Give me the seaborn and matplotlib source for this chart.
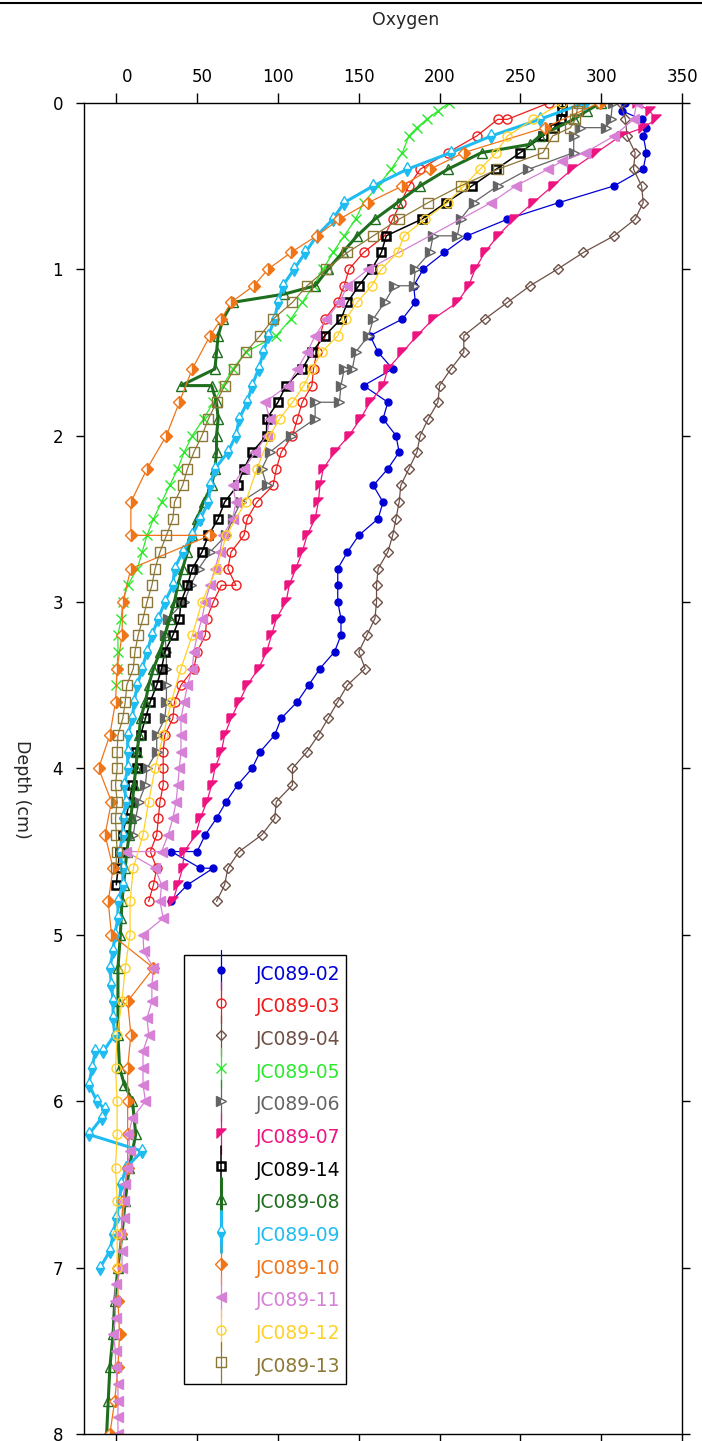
import matplotlib
matplotlib.use("Agg")
import matplotlib.pyplot as plt
import matplotlib.transforms as mtransforms
from matplotlib.lines import Line2D
from matplotlib.legend_handler import HandlerLine2D
import seaborn as sns

# Perfis de oxigénio (profundidade em cm, oxigénio)
d02 = [0.0, 0.05, 0.1, 0.15, 0.2, 0.3, 0.4, 0.5, 0.6, 0.7, 0.8, 0.9, 1.0, 1.1, 1.2, 1.3, 1.4, 1.5, 1.6, 1.7,
       1.8, 1.9, 2.0, 2.1, 2.2, 2.3, 2.4, 2.5, 2.6, 2.7, 2.8, 2.9, 3.0, 3.1, 3.2, 3.3, 3.4, 3.5, 3.6, 3.7,
       3.8, 3.9, 4.0, 4.1, 4.2, 4.3, 4.4, 4.5, 4.5, 4.6, 4.6, 4.7, 4.8]
o02 = [315, 313, 325, 328, 326, 328, 326, 308, 274, 242, 217, 203, 190, 184, 185, 177, 157, 162, 171, 153,
       168, 165, 173, 175, 168, 159, 165, 162, 150, 143, 137, 137, 137, 139, 139, 135, 126, 119, 112, 102,
       98, 89, 84, 75, 68, 62, 55, 50, 34, 52, 60, 44, 34]

d03 = [0.0, 0.1, 0.1, 0.2, 0.3, 0.4, 0.5, 0.6, 0.7, 0.8, 0.9, 1.0, 1.1, 1.2, 1.3, 1.4, 1.5, 1.6, 1.7, 1.8,
       1.9, 2.0, 2.1, 2.2, 2.3, 2.4, 2.5, 2.6, 2.7, 2.8, 2.9, 2.9, 3.0, 3.1, 3.2, 3.3, 3.4, 3.5, 3.6, 3.7,
       3.8, 3.9, 4.0, 4.1, 4.2, 4.3, 4.4, 4.5, 4.6, 4.7, 4.8]
o03 = [268, 242, 236, 223, 205, 188, 181, 176, 171, 166, 153, 144, 141, 137, 129, 126, 124, 122, 121, 115,
       112, 109, 102, 99, 97, 87, 81, 79, 71, 69, 74, 65, 60, 56, 55, 50, 48, 40, 36, 35,
       30, 29, 29, 29, 27, 26, 25, 21, 25, 23, 20]

d04 = [0.0, 0.1, 0.2, 0.3, 0.4, 0.5, 0.6, 0.7, 0.8, 0.9, 1.0, 1.1, 1.2, 1.3, 1.4, 1.5, 1.6, 1.7, 1.8, 1.9,
       2.0, 2.1, 2.2, 2.3, 2.4, 2.5, 2.6, 2.7, 2.8, 2.9, 3.0, 3.1, 3.2, 3.3, 3.4, 3.5, 3.6, 3.7, 3.8, 3.9,
       4.0, 4.1, 4.2, 4.3, 4.4, 4.5, 4.6, 4.7, 4.8]
o04 = [312, 315, 316, 321, 320, 325, 326, 321, 308, 289, 273, 256, 242, 228, 215, 215, 207, 200, 199, 193,
       188, 186, 181, 176, 175, 173, 171, 168, 162, 161, 161, 160, 155, 150, 154, 143, 137, 131, 125, 118,
       109, 109, 99, 98, 90, 76, 69, 67, 62]

d05 = [0.0, 0.05, 0.1, 0.15, 0.2, 0.3, 0.4, 0.5, 0.6, 0.7, 0.8, 0.9, 1.0, 1.1, 1.2, 1.3, 1.4, 1.5, 1.6, 1.7,
       1.8, 1.9, 2.0, 2.1, 2.2, 2.3, 2.4, 2.5, 2.6, 2.7, 2.8, 2.9, 3.0, 3.1, 3.2, 3.3, 3.4, 3.5]
o05 = [206, 199, 192, 186, 181, 177, 170, 162, 153, 148, 141, 134, 128, 122, 115, 108, 99, 80, 72, 66,
       60, 54, 47, 42, 38, 33, 28, 23, 19, 16, 13, 7, 4, 3, 1, 1, 0.5, 0]

d06 = [0.0, 0.1, 0.15, 0.15, 0.2, 0.3, 0.4, 0.5, 0.6, 0.7, 0.8, 0.8, 0.9, 1.0, 1.1, 1.1, 1.2, 1.3, 1.4, 1.5,
       1.6, 1.6, 1.7, 1.8, 1.8, 1.9, 2.0, 2.1, 2.2, 2.3, 2.4, 2.5, 2.6, 2.7, 2.8, 2.9, 3.0, 3.1, 3.2, 3.3,
       3.4, 3.5, 3.6, 3.7, 3.8, 3.9, 4.0, 4.1, 4.2, 4.3, 4.4]
o06 = [307, 306, 303, 287, 283, 283, 255, 236, 221, 213, 211, 196, 194, 185, 184, 172, 166, 159, 156, 148,
       146, 141, 139, 138, 123, 123, 108, 95, 90, 93, 77, 72, 68, 58, 51, 46, 42, 32, 30, 31,
       31, 31, 31, 30, 25, 25, 19, 18, 14, 12, 10.5]

d07 = [0.0, 0.05, 0.1, 0.15, 0.2, 0.3, 0.4, 0.5, 0.6, 0.7, 0.8, 0.9, 1.0, 1.1, 1.2, 1.3, 1.4, 1.5, 1.6, 1.7,
       1.8, 1.9, 2.0, 2.1, 2.2, 2.3, 2.4, 2.5, 2.6, 2.7, 2.8, 2.9, 3.0, 3.1, 3.2, 3.3, 3.4, 3.5, 3.6, 3.7,
       3.8, 3.9, 4.0, 4.1, 4.2, 4.3, 4.4, 4.5, 4.6, 4.7, 4.8]
o07 = [322, 330, 334, 326, 312, 297, 282, 270, 258, 246, 236, 228, 222, 218, 211, 196, 186, 177, 168, 165,
       157, 151, 144, 135, 128, 126, 125, 123, 118, 115, 111, 107, 105, 99, 96, 93, 88, 81, 76, 71,
       67, 65, 61, 59, 56, 52, 49, 42, 41, 38, 35]

d14 = [0.0, 0.05, 0.1, 0.15, 0.2, 0.3, 0.4, 0.5, 0.6, 0.7, 0.8, 0.9, 1.0, 1.1, 1.2, 1.3, 1.4, 1.5, 1.6, 1.7,
       1.8, 1.9, 2.0, 2.1, 2.2, 2.3, 2.4, 2.5, 2.6, 2.7, 2.8, 2.9, 3.0, 3.1, 3.2, 3.3, 3.4, 3.5, 3.6, 3.7,
       3.8, 3.9, 4.0, 4.1, 4.2, 4.3, 4.4, 4.5, 4.6, 4.7]
o14 = [276, 276, 275, 271, 264, 250, 235, 220, 204, 189, 167, 164, 158, 150, 143, 139, 129, 121, 115, 105,
       100, 93, 93, 84, 79, 75, 67, 63, 57, 53, 47, 44, 40, 39, 35, 30, 28, 25, 21, 18,
       15, 12, 13, 10, 8, 6, 4, 2, 1, 0]

d08 = [0.0, 0.05, 0.1, 0.2, 0.25, 0.3, 0.4, 0.5, 0.6, 0.7, 0.8, 0.9, 1.0, 1.1, 1.15, 1.2, 1.3, 1.4, 1.5, 1.6,
       1.7, 1.7, 1.8, 1.9, 2.0, 2.1, 2.2, 2.3, 2.4, 2.5, 2.6, 2.7, 2.8, 2.9, 3.0, 3.1, 3.2, 3.3, 3.4, 3.5,
       3.6, 3.7, 3.8, 3.9, 4.0, 4.1, 4.2, 4.3, 4.4, 4.5, 4.6, 4.7, 4.8, 4.9, 5.0, 5.2, 5.4, 5.6, 5.8, 5.9,
       6.0, 6.2, 6.4, 6.6, 6.8, 7.0, 7.2, 7.4, 7.6, 7.8, 8.0]
o08 = [300, 291, 283, 262, 256, 226, 205, 188, 174, 160, 149, 140, 131, 123, 104, 72, 66, 63, 62, 61,
       40, 59, 62, 63, 62, 62, 61, 59, 54, 50, 47, 44, 41, 38, 36, 33, 30, 27, 23, 20,
       18, 15, 14, 13, 12, 11, 10, 9, 8, 6.5, 5.5, 4.5, 3.5, 3, 2.5, 1, 1, 1, 2, 5,
       10, 12, 8, 5.5, 3.5, 1, -1, -2, -4, -5, -6]

d09 = [0.0, 0.1, 0.2, 0.3, 0.4, 0.5, 0.6, 0.7, 0.8, 0.9, 1.0, 1.1, 1.2, 1.3, 1.4, 1.5, 1.6, 1.7, 1.8, 1.9,
       2.0, 2.1, 2.2, 2.3, 2.4, 2.5, 2.6, 2.7, 2.8, 2.9, 3.0, 3.1, 3.2, 3.3, 3.4, 3.5, 3.6, 3.7, 3.8, 3.9,
       4.0, 4.1, 4.2, 4.3, 4.4, 4.5, 4.6, 4.7, 4.8, 4.9, 5.0, 5.1, 5.2, 5.3, 5.4, 5.5, 5.6, 5.7, 5.7, 5.8,
       5.9, 6.0, 6.05, 6.1, 6.2, 6.3, 6.4, 6.5, 6.6, 6.7, 6.8, 6.9, 7.0]
o09 = [290, 262, 232, 207, 180, 159, 141, 134, 124, 117, 110, 103, 100, 98, 94, 91, 88, 84, 81, 76,
       74, 69, 61, 58, 57, 52, 47, 41, 36, 35, 30, 26, 22, 19, 16, 13, 11, 10, 7, 7,
       7, 5, 6, 4, 4, 2, 4, 4, 1, 1, -1, -2, -4, -3, -2, -2, -1, -8, -13, -15,
       -17, -12, -7, -9, -17, 16, 6, 3, 2, 0, -2, -4, -10]

d10 = [0.0, 0.15, 0.3, 0.4, 0.5, 0.6, 0.7, 0.8, 0.9, 1.0, 1.1, 1.2, 1.3, 1.4, 1.6, 1.8, 2.0, 2.2, 2.4, 2.6,
       2.6, 2.8, 3.0, 3.2, 3.4, 3.6, 3.8, 4.0, 4.2, 4.4, 4.6, 4.8, 5.0, 5.2, 5.4, 5.6, 5.8, 6.0, 6.2, 6.4,
       6.6, 6.8, 7.0, 7.2, 7.4, 7.6, 7.8, 8.0]
o10 = [299, 265, 215, 194, 177, 156, 138, 124, 108, 94, 85, 71, 65, 58, 47, 39, 31, 19, 9, 9,
       58, 9, 4, 3.5, 0.5, -0.5, -4, -11, -3, -7, -2, -5, -3, 23, 7, 9, 7, 7, 7, 7,
       4, 3, 1, 1, 2, 1, -1, -4]

d11 = [0.0, 0.1, 0.2, 0.3, 0.35, 0.4, 0.5, 0.6, 1.0, 1.1, 1.2, 1.3, 1.4, 1.5, 1.6, 1.7, 1.8, 1.9, 2.0, 2.1,
       2.2, 2.3, 2.4, 2.5, 2.6, 2.7, 2.8, 2.9, 3.0, 3.1, 3.2, 3.3, 3.4, 3.5, 3.6, 3.7, 3.8, 3.9, 4.0, 4.1,
       4.2, 4.3, 4.4, 4.5, 4.5, 4.6, 4.7, 4.8, 4.9, 5.0, 5.1, 5.2, 5.3, 5.4, 5.5, 5.6, 5.7, 5.8, 5.9, 6.0,
       6.1, 6.2, 6.3, 6.4, 6.5, 6.6, 6.7, 6.8, 6.9, 7.0, 7.1, 7.2, 7.3, 7.4, 7.5, 7.6, 7.7, 7.8, 7.9, 8.0]
o11 = [322, 320, 308, 290, 276, 267, 247, 232, 156, 143, 138, 130, 123, 118, 112, 106, 92, 95, 93, 86,
       79, 72, 74, 72, 66, 64, 61, 58, 55, 53, 50, 48, 47, 44, 42, 40, 40, 40, 39, 38,
       37, 35, 32, 28, 6, 24, 28, 27, 29, 16.5, 17, 23, 22, 22, 19, 20, 16.5, 16.5, 16.5, 18,
       10, 7.5, 8.5, 6.5, 5.5, 4.5, 4.5, 2.5, 3.5, 3.5, -0.5, -1, -0.5, -2, -0.5, -0.5, 1, 1, 1, 1]

d12 = [0.0, 0.1, 0.2, 0.3, 0.4, 0.5, 0.6, 0.7, 0.8, 0.9, 1.0, 1.1, 1.2, 1.3, 1.4, 1.5, 1.6, 1.7, 1.8, 1.9,
       2.0, 2.2, 2.4, 2.6, 2.8, 3.0, 3.2, 3.4, 3.6, 3.8, 4.0, 4.2, 4.4, 4.6, 4.8, 5.0, 5.2, 5.4, 5.6, 5.8,
       6.0, 6.2, 6.4, 6.6, 6.8, 7.0]
o12 = [276, 258, 242, 235, 225, 215, 205, 191, 178, 174, 164, 158, 149, 142, 137, 127, 121, 116, 109, 101,
       95, 87, 80, 68, 62, 53, 47, 40, 34, 29, 24, 20, 16.5, 10.5, 8.5, 8.5, 5.5, 3.5, 0.5, -0.5,
       0.5, 0.5, -0.5, 0.5, 0.5, 0.5]

d13 = [0.0, 0.05, 0.1, 0.15, 0.2, 0.3, 0.4, 0.5, 0.6, 0.7, 0.8, 0.9, 1.0, 1.1, 1.2, 1.3, 1.4, 1.5, 1.6, 1.7,
       1.8, 1.9, 2.0, 2.1, 2.2, 2.3, 2.4, 2.5, 2.6, 2.7, 2.8, 2.9, 3.0, 3.1, 3.2, 3.3, 3.4, 3.5, 3.6, 3.7,
       3.8, 3.9, 4.0, 4.1, 4.2, 4.3, 4.4, 4.5, 4.6]
o13 = [286, 285, 284, 281, 270, 264, 236, 213, 193, 175, 159, 143, 130, 118, 109, 97, 89, 80, 73, 67,
       62, 57, 53, 48, 44, 41, 36, 35, 31, 27, 24, 22, 19, 16.5, 13.5, 11.5, 10.5, 6.5, 5.5, 4,
       1, 0.5, 0.5, -0.5, 0.5, -0.5, 0, 0.5, -0.5]

rotulos = ['JC089-02', 'JC089-03', 'JC089-04', 'JC089-05', 'JC089-06', 'JC089-07', 'JC089-14',
           'JC089-08', 'JC089-09', 'JC089-10', 'JC089-11', 'JC089-12', 'JC089-13']
profundidades = [d02, d03, d04, d05, d06, d07, d14, d08, d09, d10, d11, d12, d13]
oxigenio = [o02, o03, o04, o05, o06, o07, o14, o08, o09, o10, o11, o12, o13]

# Estilo de cada perfil (cor, marcador, espessura)
bandeira = [(-1, 1), (1, 1), (-1, -1), (-1, 1)]
estilos = [
    dict(color='#0000d4', marker='o', markersize=5, markerfacecolor='#0000d4', linewidth=0.9),
    dict(color='#ee1c1c', marker='o', markersize=6.5, markerfacecolor='none', linewidth=0.9),
    dict(color='#6e5046', marker='D', markersize=5, markerfacecolor='none', linewidth=0.9),
    dict(color='#2ee82e', marker='x', markersize=6.5, linewidth=0.9),
    dict(color='#646464', marker='>', markersize=6.5, fillstyle='left', markerfacecoloralt='white', linewidth=0.9),
    dict(color='#ee1480', marker=bandeira, markersize=6.5, markerfacecolor='#ee1480', linewidth=0.9),
    dict(color='black', marker='s', markersize=6, markerfacecolor='none', linewidth=1.1, markeredgewidth=1.8),
    dict(color='#1e6e1e', marker='^', markersize=6.5, markerfacecolor='none', linewidth=2.2),
    dict(color='#1ebcf0', marker='d', markersize=7.5, fillstyle='bottom', markerfacecoloralt='white', linewidth=2.2),
    dict(color='#f07418', marker='D', markersize=6.5, fillstyle='right', markerfacecoloralt='white', linewidth=0.9),
    dict(color='#d680d6', marker='<', markersize=6.5, markerfacecolor='#d680d6', linewidth=0.9),
    dict(color='#ffd028', marker='o', markersize=6.5, markerfacecolor='none', linewidth=0.9),
    dict(color='#8c7836', marker='s', markersize=6.5, markerfacecolor='none', linewidth=0.9),
]


# Legenda com linha vertical atravessando o marcador
class LinhaVertical(HandlerLine2D):
    def create_artists(self, legend, orig_handle, xdescent, ydescent, width, height, fontsize, trans):
        xc = width / 2 - xdescent
        yc = (height - ydescent) / 2
        meia = 0.62 * legend.handleheight * fontsize
        haste = Line2D([xc, xc], [yc - meia, yc + meia])
        self.update_prop(haste, orig_handle, legend)
        haste.set_marker('None')
        ponto = Line2D([xc], [yc])
        self.update_prop(ponto, orig_handle, legend)
        ponto.set_linestyle('None')
        haste.set_transform(trans)
        ponto.set_transform(trans)
        return [haste, ponto]


sns.set_style("ticks")
plt.rcParams['font.family'] = ['DejaVu Sans']

fig = plt.figure(figsize=(7.02, 14.41), dpi=100)
ax = fig.add_axes([84 / 702, 1 - 1434 / 1441, (682 - 84) / 702, (1434 - 102.7) / 1441])

linhas = []
for rot, prof, oxi, est in zip(rotulos, profundidades, oxigenio, estilos):
    kws = dict(est)
    kws.setdefault('markeredgecolor', est['color'])
    kws.setdefault('markeredgewidth', 1.0)
    sns.lineplot(x=oxi, y=prof, sort=False, estimator=None, errorbar=None, ax=ax, label=rot, **kws)
    linhas.append(ax.lines[-1])

ax.set_xlim(-20, 350)
ax.set_ylim(8, 0)
ax.set_xticks(range(0, 351, 50))
ax.set_yticks(range(0, 9))
ax.tick_params(axis='x', top=True, bottom=True, labeltop=True, labelbottom=False,
               direction='out', length=7, width=1, labelsize=12, pad=5, colors='black')
ax.tick_params(axis='y', left=True, right=True, labelleft=True, labelright=False,
               direction='out', length=6, width=1, labelsize=12, pad=9, colors='black')
for s in ax.spines.values():
    s.set_color('black')
    s.set_linewidth(1)

ax.xaxis.set_label_position('top')
ax.set_xlabel('Oxygen', fontsize=12.5)
ax.xaxis.set_label_coords(0.537, 1.062)
ax.xaxis.label.set(va='center', ha='center')
ax.set_ylabel('Depth (cm)', fontsize=12.5)
ax.yaxis.set_label_coords(-0.104, 0.484)
ax.yaxis.label.set(rotation=270, va='center', ha='center')

# rótulos do eixo x alinhados à direita, deslocados como no original
desloc = mtransforms.ScaledTranslation(16 / 100, 0, fig.dpi_scale_trans)
for lab in ax.get_xticklabels():
    lab.set_ha('right')
    lab.set_transform(lab.get_transform() + desloc)

leg = ax.legend(linhas, rotulos, handler_map={Line2D: LinhaVertical()}, loc='upper left',
                bbox_to_anchor=(0.1672, 0.3598), borderaxespad=0, frameon=True, fancybox=False,
                edgecolor='black', framealpha=1, fontsize=13.5, labelcolor='linecolor',
                handlelength=3.3, handleheight=1.75, labelspacing=0.36, handletextpad=0.25, borderpad=0.3)
leg.get_frame().set_linewidth(1.0)

# linha horizontal no topo da figura
fig.add_artist(Line2D([0, 1], [1 - 3 / 1441] * 2, color='black', lw=1.5, transform=fig.transFigure))

fig.savefig('out.png', dpi=100)
